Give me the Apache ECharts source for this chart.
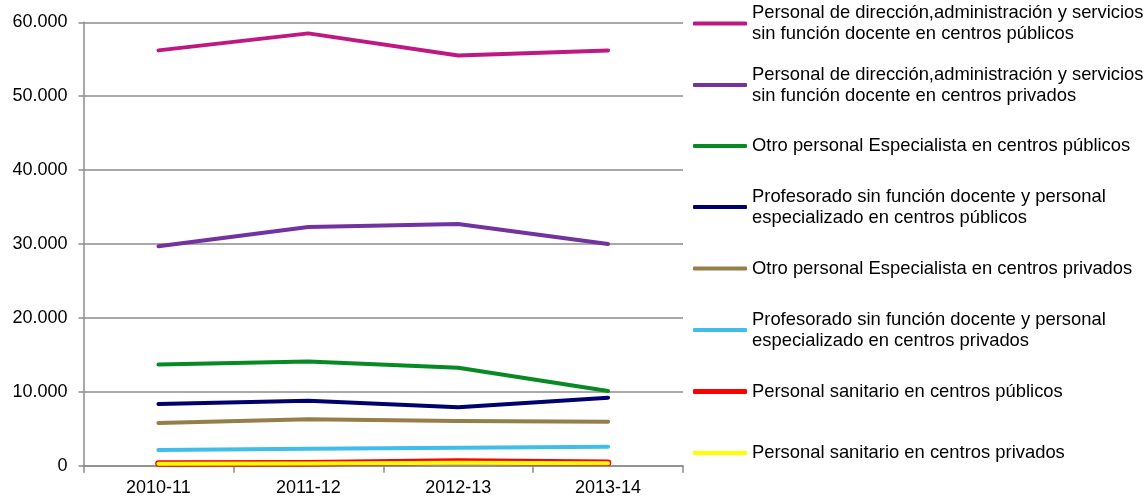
<!DOCTYPE html>
<html>
<head>
<meta charset="utf-8">
<script src="https://cdn.jsdelivr.net/npm/echarts@6/dist/echarts.min.js"></script>
<style>
  html, body { margin: 0; padding: 0; background: #fff; }
  #chart { width: 1147px; height: 498px; }
</style>
</head>
<body>
<div id="chart"></div>
<script>
// School years on the x axis
const years = ['2010-11', '2011-12', '2012-13', '2013-14'];

// Staff counts per group and year
const dirPublicos = [56200, 58500, 55500, 56200];
const dirPrivados = [29700, 32300, 32700, 30000];
const especialistaPublicos = [13700, 14100, 13250, 10100];
const profesoradoPublicos = [8350, 8800, 7900, 9200];
const especialistaPrivados = [5780, 6280, 6050, 5950];
const profesoradoPrivados = [2120, 2300, 2420, 2570];
const sanitarioPublicos = [300, 330, 560, 400];
const sanitarioPrivados = [270, 290, 390, 320];

// Series names (as shown in the legend, with their line breaks)
const names = [
  'Personal de dirección,administración y servicios\nsin función docente en centros públicos',
  'Personal de dirección,administración y servicios\nsin función docente en centros privados',
  'Otro personal Especialista en centros públicos',
  'Profesorado sin función docente y personal\nespecializado en centros públicos',
  'Otro personal Especialista en centros privados',
  'Profesorado sin función docente y personal\nespecializado en centros privados',
  'Personal sanitario en centros públicos',
  'Personal sanitario en centros privados'
];
const values = [dirPublicos, dirPrivados, especialistaPublicos, profesoradoPublicos,
  especialistaPrivados, profesoradoPrivados, sanitarioPublicos, sanitarioPrivados];
const colors = ['#BF1882', '#7232A0', '#078A24', '#00006E', '#957E48', '#41BDEA', '#FF0000', '#FFFF00'];
const widths = [4, 4, 4, 4, 4, 4, 6.5, 4];

const FONT = '"Liberation Sans", Arial, sans-serif';
const LINE_H = 21;
const legendCenters = [23.5, 85, 146, 207, 268.5, 330, 391.5, 453];

const chart = echarts.init(document.getElementById('chart'));

// One legend block per series so each icon sits on its first text line
const legends = names.map((n, i) => {
  const twoLines = n.indexOf('\n') >= 0;
  return {
    show: true,
    left: 693,
    top: legendCenters[i] - 1.5 * LINE_H,
    padding: 0,
    orient: 'vertical',
    itemWidth: 54,
    itemHeight: i === 6 ? 5 : 4,
    icon: 'roundRect',
    selectedMode: false,
    data: [{
      name: n,
      itemStyle: { color: colors[i] },
      textStyle: {
        padding: twoLines ? [LINE_H, 0, 0, 0] : [LINE_H, 0, LINE_H, 0]
      }
    }],
    textStyle: {
      fontFamily: FONT,
      fontSize: 18.4,
      lineHeight: LINE_H,
      color: '#000'
    }
  };
});

chart.setOption({
  animation: false,
  backgroundColor: '#fff',
  grid: { left: 83.5, right: 464, top: 22.3, bottom: 32.3, containLabel: false },
  legend: legends,
  xAxis: {
    type: 'category',
    data: years,
    boundaryGap: true,
    axisLine: { show: true, lineStyle: { color: '#8C8C8C', width: 1.5 } },
    axisTick: { show: true, alignWithLabel: false, length: 7, lineStyle: { color: '#8C8C8C', width: 1.5 } },
    axisLabel: { fontFamily: FONT, fontSize: 18, color: '#000', margin: 13 }
  },
  yAxis: {
    type: 'value',
    min: 0,
    max: 60000,
    interval: 10000,
    axisLine: { show: true, lineStyle: { color: '#8C8C8C', width: 1.5 } },
    axisTick: { show: true, length: 5, lineStyle: { color: '#8C8C8C', width: 1.5 } },
    splitLine: { show: true, lineStyle: { color: '#8C8C8C', width: 1.5 } },
    axisLabel: {
      fontFamily: FONT, fontSize: 18, color: '#000', margin: 16,
      formatter: v => v === 0 ? '0' : String(v).replace(/\B(?=(\d{3})+(?!\d))/g, '.')
    }
  },
  series: names.map((n, i) => ({
    name: n,
    type: 'line',
    data: values[i],
    showSymbol: false,
    symbol: 'none',
    color: colors[i],
    lineStyle: { color: colors[i], width: widths[i], cap: 'round', join: 'round' },
    emphasis: { disabled: true }
  }))
});
</script>
</body>
</html>
